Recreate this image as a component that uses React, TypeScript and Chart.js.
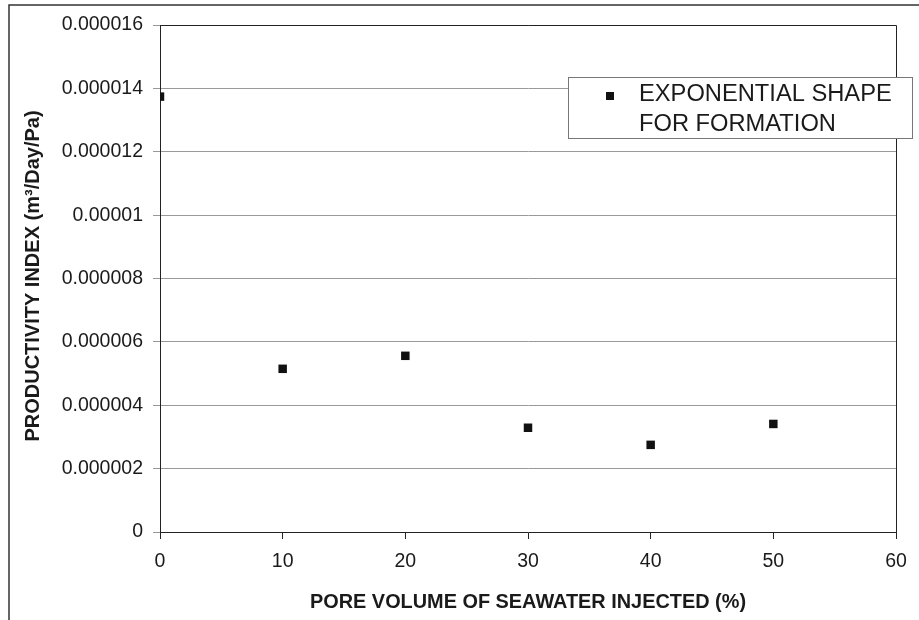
import React, { useEffect, useRef } from "react";
import { Chart, registerables } from "chart.js";

Chart.register(...registerables);

const X_VALUES = [0, 10, 20, 30, 40, 50];
const PI_VALUES = [0.00001374, 0.00000515, 0.00000556, 0.00000329, 0.00000275, 0.00000341];
const SERIES_LABEL = "EXPONENTIAL SHAPE\nFOR FORMATION";
const Y_TICK_LABELS = ["0", "0.000002", "0.000004", "0.000006", "0.000008", "0.00001", "0.000012", "0.000014", "0.000016"];
const X_TICK_LABELS = ["0", "10", "20", "30", "40", "50", "60"];
const X_TITLE = "PORE VOLUME OF SEAWATER INJECTED (%)";
const Y_TITLE = "PRODUCTIVITY INDEX (m³/Day/Pa)";

const FONT = "'Liberation Sans', Arial, sans-serif";

const decorPlugin = {
  id: "decor",
  afterDraw(chart: any) {
    const ctx = chart.ctx;
    const a = chart.chartArea;
    ctx.save();
    // outer frame
    ctx.strokeStyle = "#333";
    ctx.lineWidth = 1.5;
    ctx.beginPath();
    ctx.moveTo(9, 620);
    ctx.lineTo(9, 5);
    ctx.lineTo(919, 5);
    ctx.stroke();
    // plot border right/top
    ctx.strokeStyle = "#222";
    ctx.lineWidth = 1;
    ctx.beginPath();
    ctx.moveTo(a.left, a.top + 0.5);
    ctx.lineTo(a.right + 0.5, a.top + 0.5);
    ctx.lineTo(a.right + 0.5, a.bottom);
    ctx.stroke();
    // x axis title (slightly condensed)
    ctx.fillStyle = "#1a1a1a";
    ctx.font = "bold 20px " + FONT;
    ctx.textAlign = "center";
    ctx.textBaseline = "middle";
    const w = ctx.measureText(X_TITLE).width;
    ctx.save();
    ctx.translate((a.left + a.right) / 2, 602);
    ctx.scale(436 / w, 1);
    ctx.fillText(X_TITLE, 0, 0);
    ctx.restore();
    // y axis title
    ctx.save();
    ctx.translate(33, 276);
    ctx.rotate(-Math.PI / 2);
    ctx.font = "bold 20px " + FONT;
    ctx.fillText(Y_TITLE, 0, 0);
    ctx.restore();
    // legend
    const lx = 568, ly = 77, lw = 344, lh = 61;
    ctx.fillStyle = "#fff";
    ctx.fillRect(lx, ly, lw, lh);
    ctx.strokeStyle = "#777";
    ctx.lineWidth = 1;
    ctx.strokeRect(lx + 0.5, ly + 0.5, lw, lh);
    ctx.fillStyle = "#111";
    ctx.fillRect(606, 92, 8, 8);
    ctx.fillStyle = "#1a1a1a";
    ctx.font = "23.7px " + FONT;
    ctx.textAlign = "left";
    const lines = String(chart.data.datasets[0].label).split("\n");
    lines.forEach((t: string, i: number) => ctx.fillText(t, 639, 94 + i * 30));
    ctx.restore();
  },
};

export default function App() {
  const ref = useRef<HTMLCanvasElement>(null);
  useEffect(() => {
    if (!ref.current) return;
    const chart = new Chart(ref.current, {
      type: "scatter",
      data: {
        datasets: [
          {
            label: SERIES_LABEL,
            data: X_VALUES.map((x, i) => ({ x, y: PI_VALUES[i] })),
            pointStyle: "rect",
            pointRadius: 6,
            backgroundColor: "#111",
            borderColor: "#111",
            borderWidth: 0,
          },
        ],
      },
      options: {
        animation: false,
        responsive: false,
        devicePixelRatio: 1,
        layout: { padding: { left: 0, top: 25, right: 23, bottom: 0 } },
        plugins: { legend: { display: false }, tooltip: { enabled: false } },
        scales: {
          x: {
            type: "linear",
            min: 0,
            max: 60,
            ticks: {
              stepSize: 10,
              padding: 11,
              color: "#1a1a1a",
              font: { family: FONT, size: 19.5 },
              callback: (_v: any, i: number) => X_TICK_LABELS[i],
            },
            grid: { drawOnChartArea: false, drawTicks: true, tickLength: 7, color: "#222" },
            border: { display: true, color: "#222" },
            afterFit: (s: any) => { s.height = 88; },
          },
          y: {
            type: "linear",
            min: 0,
            max: 0.000016,
            ticks: {
              stepSize: 0.000002,
              padding: 10,
              color: "#1a1a1a",
              font: { family: FONT, size: 19.5 },
              callback: (_v: any, i: number) => Y_TICK_LABELS[i],
            },
            grid: { color: "#999", tickLength: 7, drawTicks: true },
            border: { display: true, color: "#222" },
            afterFit: (s: any) => { s.width = 160; },
          },
        },
      },
      plugins: [decorPlugin],
    });
    return () => chart.destroy();
  }, []);
  return (
    <div style={{ position: "fixed", left: 0, top: 0, width: 919, height: 620, background: "#fff" }}>
      <canvas ref={ref} width={919} height={620} style={{ width: 919, height: 620 }} />
    </div>
  );
}
